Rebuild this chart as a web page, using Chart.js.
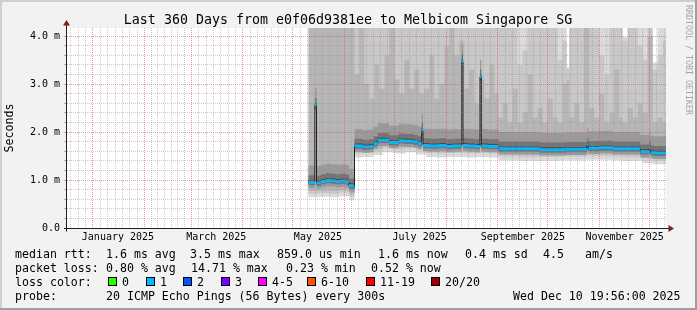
<!DOCTYPE html>
<html lang="en">
<head>
<meta charset="UTF-8" />
<title>Last 360 Days - Melbicom Singapore SG</title>
<script src="https://cdn.jsdelivr.net/npm/chart.js"></script>
<style>
  body { margin: 0; background: #f2f2f2; }
  canvas { display: block; }
</style>
</head>
<body>
<canvas id="rtt" width="697" height="310"></canvas>
<script>
// x = days since graph start (Sun Dec 15 2024 19:56), y = milliseconds
// each value holds from its day until the next one
const medDays = [145.4, 149.3, 150.3, 153, 156, 159, 162, 165, 168, 169.8, 172.6, 173.1, 178, 182, 184.5, 187, 193.8, 199.6, 203, 208.5, 211, 213.4, 214.2, 218, 224, 228, 232, 237.4, 238.2, 241, 245, 248.4, 249.2, 253, 259.6, 270, 284, 300, 312.6, 313.4, 320, 328, 335, 344.6, 349.8, 350.8, 353, 360];
const medRtt = [0.95, 2.56, 0.94, 0.97, 0.99, 0.98, 0.97, 0.98, 0.96, 0.88, 0.86, 1.71, 1.69, 1.70, 1.76, 1.83, 1.78, 1.82, 1.81, 1.79, 1.76, 2.03, 1.72, 1.71, 1.72, 1.70, 1.71, 3.47, 1.72, 1.71, 1.70, 3.15, 1.71, 1.70, 1.65, 1.65, 1.63, 1.64, 1.73, 1.66, 1.67, 1.65, 1.65, 1.59, 1.66, 1.57, 1.56, 1.56];

// smoke: lower edges of the three outer grey bands
const lowDays = [145.4, 152, 158, 164, 170, 173.1, 178, 184, 190, 196, 198, 204, 210, 216, 222, 228, 234, 240, 246, 252, 259.5, 266, 272, 278, 284, 290, 296, 300.5, 302, 308, 312, 316, 322, 328, 334, 337, 340, 346, 352, 355, 360];
const outerLow = [0.64, 0.65, 0.64, 0.66, 0.58, 1.47, 1.48, 1.52, 1.58, 1.56, 1.55, 1.58, 1.53, 1.48, 1.47, 1.48, 1.48, 1.47, 1.48, 1.47, 1.41, 1.41, 1.40, 1.40, 1.40, 1.40, 1.41, 1.41, 1.41, 1.41, 1.42, 1.42, 1.42, 1.41, 1.40, 1.40, 1.40, 1.35, 1.33, 1.33, 1.33];
const midLow = [0.72, 0.73, 0.72, 0.74, 0.66, 1.55, 1.56, 1.60, 1.66, 1.64, 1.63, 1.66, 1.61, 1.56, 1.55, 1.56, 1.56, 1.55, 1.56, 1.55, 1.49, 1.49, 1.48, 1.48, 1.48, 1.48, 1.49, 1.49, 1.49, 1.49, 1.50, 1.50, 1.50, 1.49, 1.48, 1.48, 1.48, 1.43, 1.41, 1.41, 1.41];
const darkLow = [0.77, 0.78, 0.77, 0.79, 0.71, 1.60, 1.61, 1.65, 1.71, 1.69, 1.68, 1.71, 1.66, 1.61, 1.60, 1.61, 1.61, 1.60, 1.61, 1.60, 1.54, 1.54, 1.53, 1.53, 1.53, 1.53, 1.54, 1.54, 1.54, 1.54, 1.55, 1.55, 1.55, 1.54, 1.53, 1.53, 1.53, 1.48, 1.46, 1.46, 1.46];

// smoke: upper edges (finer, for the vertical streaks)
const highDays = [145.4, 149, 152, 155, 158, 161, 164, 167, 170, 173.1, 176, 179, 182, 185, 188, 191, 194, 197, 200, 203, 206, 209, 212, 215, 218, 221, 224, 227, 230, 233, 236, 239, 242, 245, 248, 251, 254, 257, 259.5, 262, 265, 268, 271, 274, 277, 280, 283, 286, 289, 292, 295, 298, 300.5, 302, 305, 308, 311, 314, 317, 320, 323, 326, 329, 332, 334, 337, 340, 343, 346, 349, 352, 355, 358, 360];
const outerHigh = [4.3, 4.3, 4.3, 4.3, 4.3, 4.3, 4.3, 4.3, 4.3, 4.3, 4.3, 4.3, 4.3, 4.3, 4.3, 4.3, 4.3, 4.3, 4.3, 4.3, 4.3, 4.3, 4.3, 4.3, 4.3, 4.3, 4.3, 4.3, 4.3, 4.3, 4.3, 4.3, 4.3, 4.3, 4.3, 4.3, 4.3, 4.3, 4.3, 4.3, 4.3, 4.3, 4.3, 4.3, 4.3, 4.3, 4.3, 4.3, 4.3, 4.3, 4.3, 4.3, 3.35, 4.3, 4.3, 4.3, 4.3, 4.3, 4.3, 4.3, 4.3, 4.3, 4.3, 4.3, 3.98, 4.3, 4.3, 4.3, 4.3, 4.3, 3.45, 4.3, 4.3, 4.3];
const midHigh = [4.3, 4.3, 4.3, 4.3, 4.3, 4.3, 4.3, 4.3, 4.3, 4.3, 4.3, 4.3, 4.3, 4.3, 4.3, 4.3, 4.3, 4.3, 4.3, 4.3, 4.3, 4.3, 4.3, 4.3, 4.3, 4.3, 4.3, 4.3, 4.3, 4.3, 4.3, 4.3, 4.3, 4.3, 4.3, 4.3, 4.3, 4.3, 4.3, 4.3, 4.3, 4.3, 3.4, 3.7, 4.3, 4.3, 4.3, 4.3, 4.3, 4.3, 3.5, 3.9, 3.3, 4.3, 4.3, 4.3, 4.3, 4.3, 4.3, 3.6, 3.2, 4.3, 4.3, 4.3, 3.9, 4.3, 4.3, 3.8, 3.5, 4.3, 3.3, 3.6, 3.9, 3.9];
const darkHigh = [4.3, 4.3, 4.3, 4.3, 4.3, 4.3, 4.3, 4.3, 4.3, 3.2, 4.3, 3.0, 2.7, 3.4, 2.9, 3.6, 4.3, 3.1, 2.8, 3.5, 2.9, 3.3, 2.8, 2.9, 3.6, 2.7, 3.0, 3.8, 4.3, 3.6, 3.9, 2.9, 3.3, 2.6, 3.1, 2.7, 3.4, 2.8, 2.3, 2.6, 2.2, 2.9, 2.2, 2.4, 3.2, 2.3, 2.5, 2.2, 2.7, 2.3, 2.2, 3.0, 3.08, 2.3, 2.6, 2.2, 4.3, 2.5, 2.3, 2.8, 2.2, 2.4, 3.3, 2.3, 2.2, 2.5, 2.3, 2.6, 2.4, 4.0, 2.2, 2.3, 2.2, 2.2];

// spread of the dense smoke round the median (ms above / below)
const coreAbove = [0.35, 0.15, 0.05];
const coreBelow = [0.12, 0.06, 0.03];

// month starts (days since start) and the 2-monthly labels
const monthStarts = [16.17, 47.17, 75.17, 106.17, 136.17, 167.17, 197.17, 228.17, 259.17, 289.17, 320.17, 350.17];
const labelDays = [31.17, 90.17, 151.17, 212.17, 274.17, 335.17];
const labelText = ['January 2025', 'March 2025', 'May 2025', 'July 2025', 'September 2025', 'November 2025'];

const lossLabels = ['0', '1', '2', '3', '4-5', '6-10', '11-19', '20/20'];
const lossColors = ['#26ff00', '#00b8ff', '#0059ff', '#7e00ff', '#ff00ff', '#ff5500', '#ff0000', '#a10000'];

const MINOR = 'rgba(143,143,143,0.45)';
const MAJOR = 'rgba(222,79,79,0.6)';
const near = (a, b) => Math.abs(a - b) < 1e-6;

// minor x grid: each month split in 7
const minorDays = [];
const edges = [-14.83].concat(monthStarts, [381.17]);
for (let i = 0; i < edges.length - 1; i++) {
  const step = (edges[i + 1] - edges[i]) / 7;
  for (let k = 1; k < 7; k++) {
    const d = edges[i] + k * step;
    if (d > 0.5 && d < 359.5) minorDays.push(d);
  }
}
const xTicks = minorDays.concat(monthStarts, labelDays).sort((a, b) => a - b);
const yTicks = [];
for (let i = 0; i <= 20; i++) yTicks.push(i / 5);

const pts = (xs, ys) => xs.map((x, i) => ({ x: x, y: ys[i] }));

const bands = [
  { lo: pts(lowDays, outerLow), hi: pts(highDays, outerHigh), color: '#dadada' },
  { lo: pts(lowDays, midLow), hi: pts(highDays, midHigh), color: '#c8c8c8' },
  { lo: pts(lowDays, darkLow), hi: pts(highDays, darkHigh), color: '#b6b6b6' }
];
const coreColors = ['#9a9a9a', '#747474', '#4a4a4a'];
coreAbove.forEach((a, k) => {
  bands.push({
    lo: medDays.map((x, i) => ({ x: x, y: medRtt[i] - coreBelow[k] })),
    hi: medDays.map((x, i) => ({ x: x, y: medRtt[i] + a })),
    color: coreColors[k]
  });
});
// loss-coloured marker round the median (1/20 loss everywhere)
bands.push({
  lo: medDays.map((x, i) => ({ x: x, y: medRtt[i] - 0.031 })),
  hi: medDays.map((x, i) => ({ x: x, y: medRtt[i] + 0.031 })),
  color: lossColors[1]
});

const STEP = 'before';
const datasets = [];
bands.forEach((b, k) => {
  if (k === bands.length - 1) {
    datasets.push({ data: pts(medDays, medRtt), borderColor: '#202020', borderWidth: 1, stepped: STEP, pointRadius: 0, fill: false });
  }
  datasets.push({ data: b.lo, borderWidth: 0, stepped: STEP, pointRadius: 0, fill: false });
  datasets.push({ data: b.hi, borderWidth: 0, stepped: STEP, pointRadius: 0, fill: '-1', backgroundColor: b.color });
});
datasets.forEach((d, i) => { d.order = datasets.length - i; });

const frame = {
  id: 'frame',
  beforeDraw(chart) {
    const { ctx, chartArea: a, width: w, height: h } = chart;
    ctx.save();
    ctx.fillStyle = '#f2f2f2';
    ctx.fillRect(0, 0, w, h);
    ctx.fillStyle = '#cfcfcf';
    ctx.fillRect(0, 0, w, 2);
    ctx.fillRect(0, 0, 2, h);
    ctx.fillStyle = '#9e9e9e';
    ctx.fillRect(0, h - 2, w, 2);
    ctx.fillRect(w - 2, 0, 2, h);
    ctx.fillStyle = '#ffffff';
    ctx.fillRect(a.left, a.top, a.right - a.left, a.bottom - a.top);
    ctx.restore();
  },
  afterDraw(chart) {
    const { ctx, chartArea: a } = chart;
    const x0 = a.left + 0.5, y0 = a.bottom + 0.5;
    ctx.save();
    // axis ends and arrows
    ctx.strokeStyle = '#1f1f1f';
    ctx.lineWidth = 1;
    ctx.beginPath();
    ctx.moveTo(x0, y0 + 3); ctx.lineTo(x0, a.top - 4);
    ctx.moveTo(a.right, y0); ctx.lineTo(a.right + 4, y0);
    ctx.stroke();
    ctx.fillStyle = '#801f1f';
    ctx.beginPath();
    ctx.moveTo(x0, a.top - 8); ctx.lineTo(x0 - 3.5, a.top - 2.5); ctx.lineTo(x0 + 3.5, a.top - 2.5);
    ctx.closePath(); ctx.fill();
    ctx.beginPath();
    ctx.moveTo(a.right + 8, y0); ctx.lineTo(a.right + 2.5, y0 - 3.5); ctx.lineTo(a.right + 2.5, y0 + 3.5);
    ctx.closePath(); ctx.fill();

    // title
    ctx.fillStyle = '#000';
    ctx.textBaseline = 'alphabetic';
    ctx.textAlign = 'center';
    ctx.font = '13.3px "DejaVu Sans Mono"';
    ctx.fillText('Last 360 Days from e0f06d9381ee to Melbicom Singapore SG', 348, 24);

    // legend lines
    ctx.textAlign = 'left';
    ctx.font = '11.6px "DejaVu Sans Mono"';
    const rows = [
      [258, [[15, 'median rtt:'], [106, '1.6 ms avg'], [190, '3.5 ms max'], [277, '859.0 us min'], [378, '1.6 ms now'], [465, '0.4 ms sd'], [543, '4.5'], [585, 'am/s']]],
      [272, [[15, 'packet loss:'], [106, '0.80 % avg'], [191, '14.71 % max'], [286, '0.23 % min'], [371, '0.52 % now']]],
      [286, [[15, 'loss color:']]],
      [300, [[15, 'probe:'], [106, '20 ICMP Echo Pings (56 Bytes) every 300s'], [513, 'Wed Dec 10 19:56:00 2025']]]
    ];
    rows.forEach(([y, items]) => items.forEach(([x, t]) => ctx.fillText(t, x, y)));
    const boxX = [108, 146, 183, 221, 258, 307, 366, 431];
    lossLabels.forEach((t, i) => {
      ctx.fillStyle = lossColors[i];
      ctx.fillRect(boxX[i], 277, 9, 9);
      ctx.strokeStyle = '#000';
      ctx.strokeRect(boxX[i] + 0.5, 277.5, 8, 8);
      ctx.fillStyle = '#000';
      ctx.fillText(t, boxX[i] + 14, 286);
    });

    // watermark
    ctx.translate(688.5, 5);
    ctx.rotate(Math.PI / 2);
    ctx.fillStyle = '#a4a4a4';
    ctx.font = '8.3px "DejaVu Sans Mono"';
    ctx.textBaseline = 'middle';
    ctx.fillText('RRDTOOL / TOBI OETIKER', 0, 0);
    ctx.restore();
  }
};

Chart.defaults.font.family = '"DejaVu Sans Mono"';

new Chart(document.getElementById('rtt'), {
  type: 'line',
  data: { datasets: datasets },
  plugins: [frame],
  options: {
    responsive: false,
    animation: false,
    devicePixelRatio: 1,
    layout: { padding: { top: 28, right: 31, left: 0, bottom: 0 } },
    plugins: { legend: { display: false }, tooltip: { enabled: false } },
    events: [],
    scales: {
      x: {
        type: 'linear',
        min: 0,
        max: 360,
        afterFit: s => { s.height = 82; },
        afterBuildTicks: s => { s.ticks = xTicks.map(v => ({ value: v })); },
        ticks: {
          autoSkip: false,
          maxRotation: 0,
          minRotation: 0,
          padding: 3,
          color: '#000',
          font: { size: 10 },
          callback: v => {
            const i = labelDays.findIndex(d => near(d, v));
            return i >= 0 ? labelText[i] : '';
          }
        },
        grid: {
          z: 1,
          drawTicks: false,
          color: c => {
            const v = c.tick.value;
            if (monthStarts.some(d => near(d, v))) return MAJOR;
            if (labelDays.some(d => near(d, v))) return 'transparent';
            return MINOR;
          }
        },
        border: { z: 2, color: '#1f1f1f', dash: [1, 1] }
      },
      y: {
        min: 0,
        max: 200 / 48,
        afterFit: s => { s.width = 66; },
        afterBuildTicks: s => { s.ticks = yTicks.map(v => ({ value: v })); },
        ticks: {
          autoSkip: false,
          padding: 4,
          color: '#000',
          font: { size: 10 },
          callback: v => {
            if (!near(v, Math.round(v))) return '';
            return v === 0 ? '0.0' : v.toFixed(1) + ' m';
          }
        },
        grid: {
          z: 1,
          tickLength: 2,
          color: c => {
            const v = c.tick.value;
            if (v === 0) return 'transparent';
            return near(v, Math.round(v)) ? MAJOR : MINOR;
          },
          tickColor: c => (c.tick.value === 0 ? '#1f1f1f' : '#b0b0b0')
        },
        border: { z: 2, color: '#1f1f1f', dash: [1, 1] },
        title: {
          display: true,
          text: 'Seconds',
          color: '#000',
          font: { size: 11.6 },
          padding: { top: 3.5, bottom: 0 }
        }
      }
    }
  }
});
</script>
</body>
</html>
